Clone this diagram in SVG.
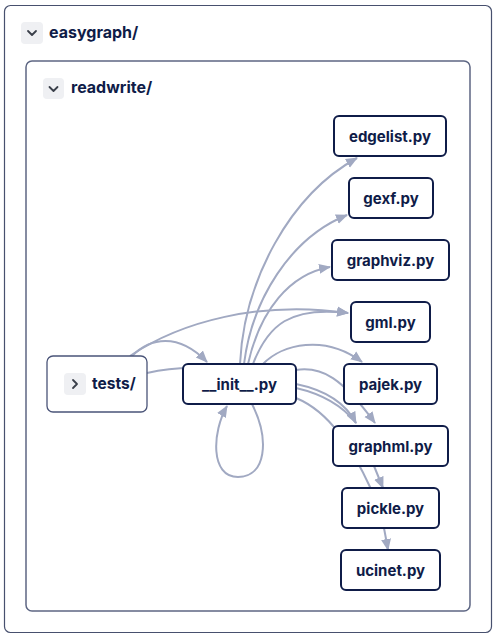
<svg xmlns="http://www.w3.org/2000/svg" width="500" height="641" viewBox="0 0 500 641">
<defs>
<style>
.box{fill:#fff;stroke:#0f1c48;stroke-width:2}
.lbl{font-family:Inter,"Liberation Sans",sans-serif;font-weight:700;font-size:15px;fill:#0f1c48;text-anchor:middle;dominant-baseline:central}
.title{font-family:Inter,"Liberation Sans",sans-serif;font-weight:700;font-size:16px;fill:#0f1c48}
.btn{fill:#eff0f3}
.chev{fill:none;stroke:#3a3f4a;stroke-width:1.8;stroke-linecap:round;stroke-linejoin:round}
.e{fill:none;stroke:#a1a9c2;stroke-width:2}
</style>
<marker id="ah" markerUnits="userSpaceOnUse" markerWidth="12" markerHeight="12" viewBox="0 0 12 12" refX="11" refY="6" orient="auto">
<path d="M0,1 L12,6 L0,11 Z" fill="#a1a9c2"/>
</marker>
</defs>
<rect x="0" y="0" width="500" height="641" fill="#fff"/>
<g id="easygraph">
<rect x="4.5" y="5.5" width="487" height="627" rx="6" fill="#fff" stroke="#47506e" stroke-width="1.2"/>
<rect class="btn" x="21" y="22" width="22" height="22" rx="4"/>
<path class="chev" d="M28,31 L32,35 L36,31"/>
<text class="title" x="49" y="38">easygraph/</text>
</g>
<g id="readwrite">
<rect x="26" y="61" width="444" height="550" rx="6" fill="#fff" stroke="#5d6683" stroke-width="1.5"/>
<rect class="btn" x="43" y="78" width="21" height="21" rx="4"/>
<path class="chev" d="M49.5,87 L53.5,91 L57.5,87"/>
<text class="title" x="71" y="93">readwrite/</text>
</g>
<g id="connectors">
<path class="e" d="M240,364 C244,280 290,195 357,158" marker-end="url(#ah)"/>
<path class="e" d="M244,364 C252,300 290,238 347,215" marker-end="url(#ah)"/>
<path class="e" d="M248,364 C260,310 290,274 330,267" marker-end="url(#ah)"/>
<path class="e" d="M253,364 C268,325 290,306 348,313" marker-end="url(#ah)"/>
<path class="e" d="M130,356 C180,322 260,300 348,313" marker-end="url(#ah)"/>
<path class="e" d="M132,356 C150,338 178,332 207,362" marker-end="url(#ah)"/>
<path class="e" d="M147,373 C160,370 175,368 192,368"/>
<path class="e" d="M263,364 C282,344 325,334 362,362" marker-end="url(#ah)"/>
<path class="e" d="M296,370 C322,366 342,378 375,423" marker-end="url(#ah)"/>
<path class="e" d="M296,384 C325,390 345,402 356,423" marker-end="url(#ah)"/>
<path class="e" d="M296,388 C322,394 342,405 356,423"/>
<path class="e" d="M296,398 C330,412 352,448 371,489"/>
<path class="e" d="M374,466 L383,488" marker-end="url(#ah)"/>
<path class="e" d="M384,528 L388,550" marker-end="url(#ah)"/>
<path class="e" d="M252,404 C270,440 266,477 238,477 C210,477 212,432 227,406" marker-end="url(#ah)"/>
</g>
<g id="tests">
<rect x="47" y="356" width="100" height="56" rx="6" fill="#fff" stroke="#4a5478" stroke-width="1.3"/>
<rect class="btn" x="64" y="373" width="22" height="22" rx="4"/>
<path class="chev" d="M73,380 L77,384 L73,388"/>
<text class="title" x="92" y="389" style="font-size:15.5px">tests/</text>
</g>
<g id="init"><rect class="box" x="183" y="364" width="113" height="40" rx="5"/><text class="lbl" x="239.5" y="384">__init__.py</text></g>
<g id="edgelist"><rect class="box" x="334" y="116" width="112" height="40" rx="5"/><text class="lbl" x="390" y="136">edgelist.py</text></g>
<g id="gexf"><rect class="box" x="349" y="178" width="84" height="40" rx="5"/><text class="lbl" x="391" y="198">gexf.py</text></g>
<g id="graphviz"><rect class="box" x="332" y="240" width="117" height="40" rx="5"/><text class="lbl" x="390.5" y="260">graphviz.py</text></g>
<g id="gml"><rect class="box" x="351" y="302" width="79" height="40" rx="5"/><text class="lbl" x="390.5" y="322">gml.py</text></g>
<g id="pajek"><rect class="box" x="344" y="364" width="93" height="40" rx="5"/><text class="lbl" x="390.5" y="384">pajek.py</text></g>
<g id="graphml"><rect class="box" x="333" y="426" width="115" height="40" rx="5"/><text class="lbl" x="390.5" y="446">graphml.py</text></g>
<g id="pickle"><rect class="box" x="342" y="488" width="97" height="40" rx="5"/><text class="lbl" x="390.5" y="508">pickle.py</text></g>
<g id="ucinet"><rect class="box" x="341" y="550" width="99" height="40" rx="5"/><text class="lbl" x="390.5" y="570">ucinet.py</text></g>
</svg>
